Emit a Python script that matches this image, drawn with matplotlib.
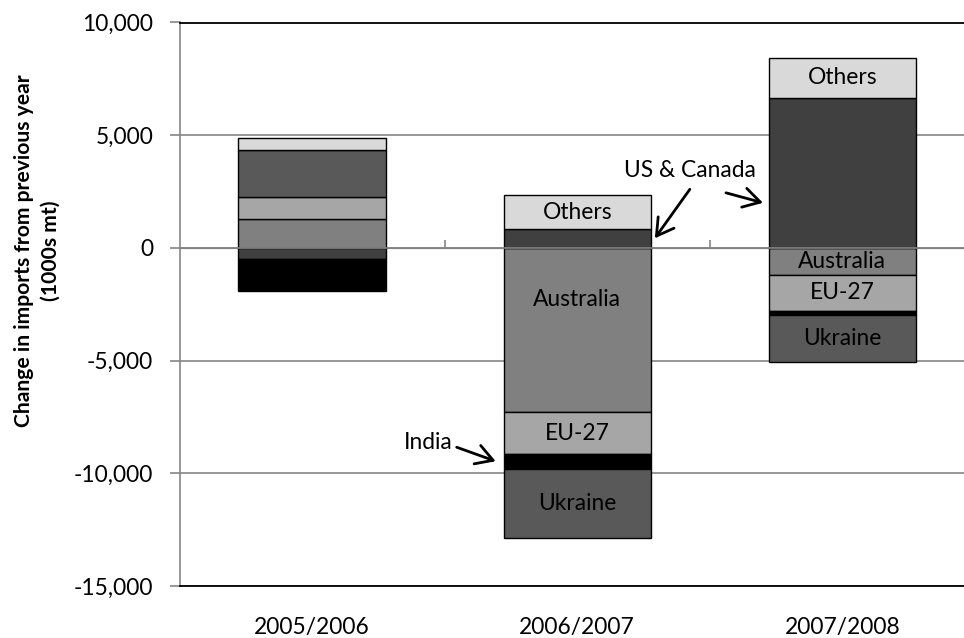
import matplotlib
matplotlib.use("Agg")
import matplotlib.pyplot as plt
from matplotlib.ticker import FuncFormatter, FixedLocator
import numpy as np

# Change in imports from previous year, 1000s mt
periods = ["2005/2006", "2006/2007", "2007/2008"]
australia = [1300, -7290, -1220]
eu27 = [960, -1850, -1560]
us_canada = [-490, 850, 6660]
india = [-1410, -650, -190]
ukraine = [2070, -3090, -2100]
others = [550, 1480, 1770]

series_names = ["Australia", "EU-27", "US & Canada", "India", "Ukraine", "Others"]
series_values = [australia, eu27, us_canada, india, ukraine, others]
series_colors = ["#808080", "#a6a6a6", "#404040", "#000000", "#595959", "#d9d9d9"]

# In-bar labels: (period index, series name, relative position inside segment)
inbar_labels = [
    (1, "Others", 0.5), (1, "Australia", 0.315), (1, "EU-27", 0.5), (1, "Ukraine", 0.5),
    (2, "Others", 0.5), (2, "Australia", 0.5), (2, "EU-27", 0.5), (2, "Ukraine", 0.5),
]

plt.rcParams["font.family"] = ["Lato", "DejaVu Sans"]
FS = 16.4

W, H = 964, 638
fig = plt.figure(figsize=(W / 100, H / 100), dpi=100)
ax = fig.add_axes([179.5 / W, (H - 586) / H, (975 - 179.5) / W, (586 - 22.5) / H])

x = np.arange(len(periods))
bar_w = 0.555

# stacked bars: positive and negative values stack separately
pos_base = np.zeros(len(periods))
neg_base = np.zeros(len(periods))
segments = {}
for name, vals, col in zip(series_names, series_values, series_colors):
    vals = np.array(vals, dtype=float)
    bottoms = np.where(vals >= 0, pos_base, neg_base)
    ax.bar(x, vals, bar_w, bottom=bottoms, color=col, edgecolor="black",
           linewidth=1.0, zorder=2)
    for i in range(len(periods)):
        segments[(i, name)] = (bottoms[i], vals[i])
    pos_base = pos_base + np.where(vals >= 0, vals, 0)
    neg_base = neg_base + np.where(vals < 0, vals, 0)

for i, name, frac in inbar_labels:
    b, v = segments[(i, name)]
    ax.text(x[i], b + frac * v, name, ha="center", va="center", fontsize=FS,
            color="black", zorder=5)

# axes styling
ax.set_xlim(-0.5, 2.5)
ax.set_ylim(-15000, 10000)
ax.yaxis.set_major_locator(FixedLocator(np.arange(-15000, 10001, 5000)))
ax.yaxis.set_major_formatter(FuncFormatter(lambda v, p: f"{v:,.0f}"))
ax.grid(axis="y", color="#868686", linewidth=1.2, zorder=0)
ax.set_axisbelow(True)
ax.axhline(0, color="#868686", linewidth=1.2, zorder=3)

ax.spines["right"].set_visible(False)
ax.spines["left"].set_color("#868686")
ax.spines["left"].set_linewidth(1.2)
ax.spines["top"].set_color("black")
ax.spines["bottom"].set_color("black")
ax.spines["top"].set_linewidth(1.3)
ax.spines["bottom"].set_linewidth(1.3)

ax.tick_params(axis="y", direction="out", length=7, width=1.2, color="#868686",
               labelsize=FS, pad=12)
ax.set_xticks(x)
ax.set_xticklabels(periods)
ax.tick_params(axis="x", length=0, labelsize=FS, pad=22)

# category separators on the zero line
sec = ax.secondary_xaxis(0.6)
sec.set_xticks([0.5, 1.5])
sec.set_xticklabels([])
sec.spines["bottom"].set_visible(False)
sec.tick_params(axis="x", direction="out", length=6, width=1.2, color="#868686")

fig.text(37 / W, 1 - 251 / H, "Change in imports from previous year\n(1000s mt)",
         rotation=90, ha="center", va="center", multialignment="center",
         fontsize=15.2, fontweight="bold", linespacing=1.4)

arrow = dict(arrowstyle="->,head_length=0.6,head_width=0.35", lw=2.0,
             color="black", shrinkA=0, shrinkB=0, mutation_scale=20)

# US & Canada callout
ax.text(1.424, 3440, "US & Canada", ha="center", va="center", fontsize=FS)
ax.annotate("", xy=(x[1] + bar_w / 2 + 0.015, segments[(1, "US & Canada")][1] / 2),
            xytext=(35, 49), textcoords="offset pixels", arrowprops=arrow)
ax.annotate("", xy=(x[2] - bar_w / 2 - 0.022, 2000),
            xytext=(-37, 10), textcoords="offset pixels", arrowprops=arrow)

# India callout
b, v = segments[(1, "India")]
ax.text(0.437, -8620, "India", ha="center", va="center", fontsize=FS)
ax.annotate("", xy=(x[1] - bar_w / 2 - 0.03, b + v / 2),
            xytext=(-39, 14), textcoords="offset pixels", arrowprops=arrow)

fig.savefig("out.png", dpi=100)
